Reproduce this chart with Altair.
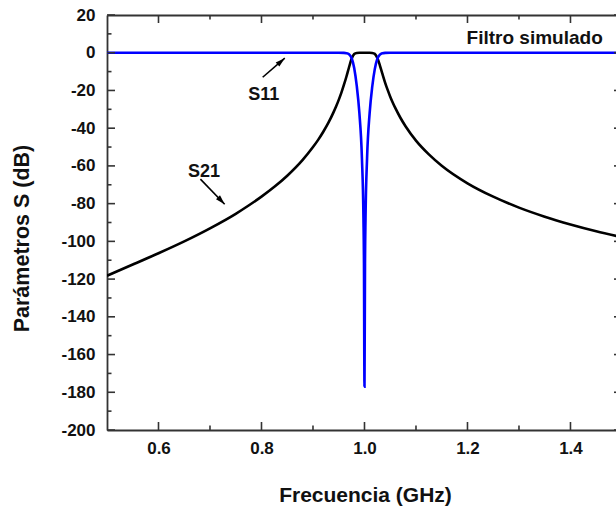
import altair as alt
import pandas as pd

# ---- data (frequency in GHz, level in dB) ----
freq_s21 = [0.50, 0.55, 0.60, 0.65, 0.70, 0.75, 0.775, 0.80, 0.825, 0.85, 0.88, 0.90,
            0.91, 0.92, 0.93, 0.94, 0.945, 0.95, 0.955, 0.96, 0.965, 0.97, 0.975,
            0.98, 0.985, 0.99, 1.00, 1.01, 1.015, 1.02, 1.025, 1.03, 1.035, 1.04,
            1.045, 1.05, 1.055, 1.06, 1.07, 1.08, 1.10, 1.125, 1.15, 1.20, 1.25,
            1.30, 1.35, 1.40, 1.45, 1.50]
db_s21 = [-118.2, -112.3, -106.3, -100.0, -93.1, -85.4, -81.0, -76.3, -71.1, -65.2,
          -56.8, -50.0, -46.2, -41.9, -37.1, -31.5, -28.4, -25.0, -21.3, -17.1,
          -12.6, -7.7, -3.2, -0.7, -0.1, 0.0, 0.0, 0.0, -0.1, -0.6, -2.8, -6.8,
          -11.4, -15.8, -19.7, -23.3, -26.5, -29.4, -34.6, -39.1, -46.6, -53.9,
          -59.9, -69.2, -76.3, -82.1, -86.9, -91.0, -94.6, -97.8]

freq_s11 = [0.50, 0.90, 0.94, 0.95, 0.96, 0.965, 0.97, 0.975, 0.98, 0.985, 0.99,
            0.995, 0.998, 0.999, 1.000, 1.001, 1.002, 1.005, 1.01, 1.015, 1.02,
            1.025, 1.03, 1.035, 1.04, 1.05, 1.10, 1.50]
db_s11 = [0.0, 0.0, 0.0, -0.01, -0.09, -0.25, -0.81, -2.8, -8.1, -17.6, -31.7,
          -55.8, -87.7, -111.8, -177.0, -111.9, -87.8, -56.0, -32.0, -18.1, -8.7,
          -3.2, -1.0, -0.3, -0.1, -0.02, 0.0, 0.0]

x_major = [0.6, 0.8, 1.0, 1.2, 1.4]
x_minor = [0.7, 0.9, 1.1, 1.3]
y_major = [-200, -180, -160, -140, -120, -100, -80, -60, -40, -20, 0, 20]
y_minor = [-190, -170, -150, -130, -110, -90, -70, -50, -30, -10, 10]

note_text = ["S11", "S21"]
note_x = [0.8043, 0.6885]
note_y = [-25.2, -65.8]
arrow_x0 = [0.8023, 0.6814]
arrow_y0 = [-13.0, -67.0]
arrow_x1 = [0.8452, 0.7285]
arrow_y1 = [-2.9, -80.3]
arrow_angle = [49, 136]
legend_text = ["Filtro simulado"]
legend_x = [1.3305]
legend_y = [4.85]

# frame of the original plot (its right edge, 1.5 GHz, lies just outside the picture)
x_frame = [0.5, 1.5]
x_domain = [0.5, 1.4884]
y_domain = [-200, 20]

# ---- tables ----
df21 = pd.DataFrame({"f": freq_s21, "db": db_s21})
df11 = pd.DataFrame({"f": freq_s11, "db": db_s11})
df_notes = pd.DataFrame({"t": note_text, "x": note_x, "y": note_y})
df_arrows = pd.DataFrame({"x": arrow_x0, "y": arrow_y0, "x2": arrow_x1,
                          "y2": arrow_y1, "a": arrow_angle})
df_leg = pd.DataFrame({"t": legend_text, "x": legend_x, "y": legend_y})

FONT = "Liberation Sans"
AX = "#333333"
TXT = "#111111"

xs = alt.Scale(domain=x_domain, nice=False, zero=False)
ys = alt.Scale(domain=y_domain, nice=False, zero=False)


def axis(**kw):
    base = dict(grid=False, domainColor=AX, domainWidth=1.8, ticks=False,
                labelFont=FONT, labelFontWeight="bold", labelFontSize=17,
                labelColor=TXT, titleFont=FONT, titleFontWeight="bold",
                titleFontSize=21, titleColor=TXT)
    base.update(kw)
    return alt.Axis(**base)


ax_x_main = axis(orient="bottom", values=x_major, format=".1f",
                 labelPadding=10, domain=True, title="Frecuencia (GHz)",
                 titleX=258, titleY=71, titleBaseline="alphabetic")
ax_y_main = axis(orient="left", values=y_major, labelExpr="'' + datum.value",
                 labelPadding=12, domain=True, title="Parámetros S (dB)",
                 titleAngle=270, titleX=-79, titleY=223,
                 titleBaseline="alphabetic", titleFontSize=21.5)
ax_x_top = axis(orient="top", values=x_major, labels=False, domain=True,
                title=None)


def edge_ticks(values, edge, length, side):
    """Inward tick marks drawn on one edge of the frame."""
    df = pd.DataFrame({"v": values, "e": [edge] * len(values)})
    if side in ("bottom", "top"):
        off = -length / 2 if side == "bottom" else length / 2
        return alt.Chart(df).mark_tick(orient="vertical", size=length,
                                       thickness=1.6, color=AX, opacity=1,
                                       yOffset=off).encode(
            x=alt.X("v:Q", scale=xs, axis=None),
            y=alt.Y("e:Q", scale=ys, axis=None),
        )
    off = length / 2 if side == "left" else -length / 2
    return alt.Chart(df).mark_tick(orient="horizontal", size=length,
                                   thickness=1.6, color=AX, opacity=1,
                                   xOffset=off).encode(
        x=alt.X("e:Q", scale=xs, axis=None),
        y=alt.Y("v:Q", scale=ys, axis=None),
    )


ticks = [
    edge_ticks(x_major, y_domain[0], 8, "bottom"),
    edge_ticks(x_minor, y_domain[0], 4.5, "bottom"),
    edge_ticks(x_major, y_domain[1], 8, "top"),
    edge_ticks(x_minor, y_domain[1], 4.5, "top"),
    edge_ticks(y_major, x_frame[0], 8, "left"),
    edge_ticks(y_minor, x_frame[0], 4.5, "left"),
    edge_ticks(y_major, x_frame[1], 8, "right"),
    edge_ticks(y_minor, x_frame[1], 4.5, "right"),
]

s21 = alt.Chart(df21).mark_line(color="black", strokeWidth=2.6, clip=True,
                                interpolate="monotone").encode(
    x=alt.X("f:Q", scale=xs, axis=ax_x_main),
    y=alt.Y("db:Q", scale=ys, axis=ax_y_main),
)

s11 = alt.Chart(df11).mark_line(color="#0000ff", strokeWidth=2.6, clip=True,
                                interpolate="monotone").encode(
    x=alt.X("f:Q", scale=xs, axis=None),
    y=alt.Y("db:Q", scale=ys, axis=None),
)

legend = alt.Chart(df_leg).mark_text(font=FONT, fontWeight="bold", fontSize=19,
                                     color=TXT, align="center",
                                     baseline="alphabetic").encode(
    x=alt.X("x:Q", scale=xs, axis=ax_x_top),
    y=alt.Y("y:Q", scale=ys, axis=None),
    text="t:N",
)

notes = alt.Chart(df_notes).mark_text(font=FONT, fontWeight="bold", fontSize=18,
                                      color=TXT, align="center",
                                      baseline="alphabetic").encode(
    x=alt.X("x:Q", scale=xs, axis=None),
    y=alt.Y("y:Q", scale=ys, axis=None),
    text="t:N",
)

shafts = alt.Chart(df_arrows).mark_rule(color="black", strokeWidth=1.6).encode(
    x=alt.X("x:Q", scale=xs, axis=None),
    y=alt.Y("y:Q", scale=ys, axis=None),
    x2="x2:Q",
    y2="y2:Q",
)

heads = alt.Chart(df_arrows).mark_point(shape="M0,0L-0.7,2.4L0.7,2.4Z",
                                        filled=True, color="black", opacity=1,
                                        size=64).encode(
    x=alt.X("x2:Q", scale=xs, axis=None),
    y=alt.Y("y2:Q", scale=ys, axis=None),
    angle=alt.Angle("a:Q", scale=None),
)

chart = alt.layer(s21, s11, legend, notes, shafts, heads, *ticks).resolve_axis(
    x="independent", y="independent"
).properties(
    width=509,
    height=415,
    autosize=alt.AutoSizeParams(type="none"),
    padding={"left": 107, "top": 15, "right": 0, "bottom": 82},
    background="white",
).configure_view(stroke=None)

chart.save("out.html", embed_options={"renderer": "svg", "actions": False})
